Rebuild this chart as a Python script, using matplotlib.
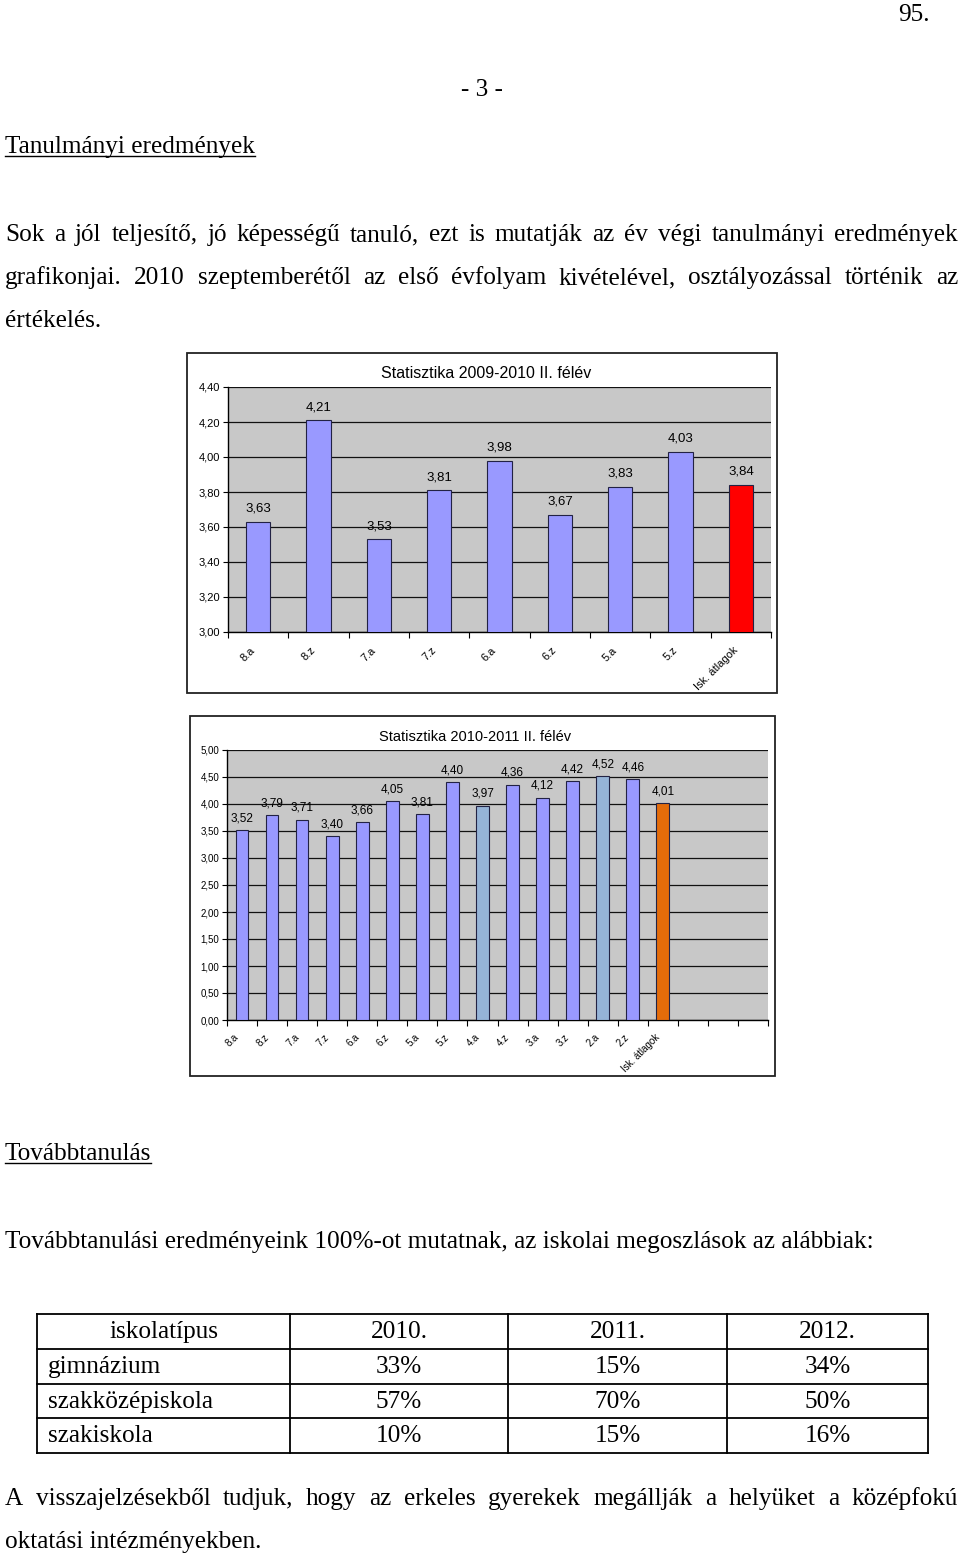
import numpy as np
import matplotlib
matplotlib.use("Agg")
import matplotlib.pyplot as plt
from matplotlib.patches import Rectangle
from matplotlib.ticker import FuncFormatter, FixedLocator

# chart 1 data
classes_1 = ["8.a", "8.z", "7.a", "7.z", "6.a", "6.z", "5.a", "5.z", "Isk. átlagok"]
avg_1 = [3.63, 4.21, 3.53, 3.81, 3.98, 3.67, 3.83, 4.03, 3.84]
colors_1 = ["#9999ff"] * 8 + ["#ff0000"]

# chart 2 data
classes_2 = ["8.a", "8.z", "7.a", "7.z", "6.a", "6.z", "5.a", "5.z",
             "4.a", "4.z", "3.a", "3.z", "2.a", "2.z", "Isk. átlagok"]
avg_2 = [3.52, 3.79, 3.71, 3.40, 3.66, 4.05, 3.81, 4.40,
         3.97, 4.36, 4.12, 4.42, 4.52, 4.46, 4.01]
colors_2 = ["#9999ff"] * 8 + ["#95b3d7", "#9999ff", "#9999ff", "#9999ff",
                              "#95b3d7", "#9999ff", "#e46c0a"]

# table data
table_head = ["iskolatípus", "2010.", "2011.", "2012."]
school_types = ["gimnázium", "szakközépiskola", "szakiskola"]
pct_2010 = [33, 57, 10]
pct_2011 = [15, 70, 15]
pct_2012 = [34, 50, 16]

W, H = 960, 1559
SERIF = "Liberation Serif"
SANS = "Liberation Sans"
BODY = 18.2

fig = plt.figure(figsize=(W / 100, H / 100), dpi=100)
page = fig.add_axes([0, 0, 1, 1])
page.set_xlim(0, W)
page.set_ylim(H, 0)
page.axis("off")
renderer = fig.canvas.get_renderer()


def comma(v, pos=None):
    return f"{v:.2f}".replace(".", ",")


def text_line(s, x, y, ha="left", size=BODY):
    return page.text(x, y, s, ha=ha, va="baseline", family=SERIF, fontsize=size)


def justified(s, x0, x1, y, size=BODY):
    words = s.split()
    texts = [text_line(w, 0, y, size=size) for w in words]
    widths = [t.get_window_extent(renderer).width for t in texts]
    gap = (x1 - x0 - sum(widths)) / (len(words) - 1)
    x = x0
    for t, w in zip(texts, widths):
        t.set_x(x)
        x += w + gap


def underlined(s, x, y):
    t = text_line(s, x, y)
    w = t.get_window_extent(renderer).width
    page.plot([x, x + w], [y + 3, y + 3], color="black", lw=1)


# page text
text_line("95.", 930, 21, ha="right")
text_line("- 3 -", 482, 96, ha="center")
underlined("Tanulmányi eredmények", 5, 153)
justified("Sok a jól teljesítő, jó képességű tanuló, ezt is mutatják az év végi tanulmányi eredmények",
          5, 958, 241)
justified("grafikonjai. 2010 szeptemberétől az első évfolyam kivételével, osztályozással történik az",
          5, 958, 284)
text_line("értékelés.", 5, 327)

underlined("Továbbtanulás", 5, 1160)
text_line("Továbbtanulási eredményeink 100%-ot mutatnak, az iskolai megoszlások az alábbiak:", 5, 1248)
justified("A visszajelzésekből tudjuk, hogy az erkeles gyerekek megállják a helyüket a középfokú",
          5, 958, 1505)
text_line("oktatási intézményekben.", 5, 1548)

# table
col_x = [37, 290, 508, 727, 928]
row_y = [1314, 1349, 1384, 1418, 1453]
for x in col_x:
    page.plot([x, x], [row_y[0], row_y[-1]], color="black", lw=1.3)
for y in row_y:
    page.plot([col_x[0], col_x[-1]], [y, y], color="black", lw=1.3)
centers = [(col_x[i] + col_x[i + 1]) / 2 for i in range(4)]
for i, h in enumerate(table_head):
    text_line(h, centers[i], row_y[0] + 24, ha="center")
for r, name in enumerate(school_types):
    y = row_y[r + 1] + 24
    text_line(name, 48, y)
    for c, col in enumerate([pct_2010, pct_2011, pct_2012]):
        text_line(f"{col[r]}%", centers[c + 1], y, ha="center")

# chart frames
page.add_patch(Rectangle((187, 353), 590, 340, facecolor="white", edgecolor="#222222", lw=1.3))
page.add_patch(Rectangle((190, 716), 585, 360, facecolor="white", edgecolor="#222222", lw=1.3))
page.text(486, 373, "Statisztika 2009-2010 II. félév", ha="center", va="center",
          family=SANS, fontsize=11.5)
page.text(475, 737, "Statisztika 2010-2011 II. félév", ha="center", va="center",
          family=SANS, fontsize=10.5)


def bar_chart(rect, labels, values, colors, nslots, width, ylim, step,
              ytick_size, xtick_size, label_size, lab_off, xoff):
    l, t, r, b = rect
    ax = fig.add_axes([l / W, 1 - b / H, (r - l) / W, (b - t) / H])
    ax.set_facecolor("#c8c8c8")
    x = np.arange(len(values))
    ax.bar(x, values, width=width, color=colors, edgecolor="#222244", lw=0.8, zorder=3)
    for xi, v in zip(x, values):
        ax.annotate(comma(v), (xi, v), xytext=(0, lab_off), textcoords="offset points",
                    ha="center", va="center", family=SANS, fontsize=label_size)
    # rotated category labels, anchored at their upper right corner
    for xi, lbl in zip(x, labels):
        ax.annotate(lbl, (xi, 0), xycoords=ax.get_xaxis_transform(), xytext=xoff,
                    textcoords="offset points", rotation=45, ha="right", va="top",
                    rotation_mode="anchor", family=SANS, fontsize=xtick_size,
                    annotation_clip=False)
    ax.set_xlim(-0.5, nslots - 0.5)
    ax.set_ylim(*ylim)
    ax.set_yticks(np.arange(ylim[0], ylim[1] + step / 2, step))
    ax.yaxis.set_major_formatter(FuncFormatter(comma))
    ax.yaxis.grid(True, color="#111111", lw=0.9)
    ax.set_axisbelow(True)
    ax.set_xticks([])
    ax.xaxis.set_minor_locator(FixedLocator(np.arange(-0.5, nslots, 1)))
    ax.tick_params(axis="x", which="minor", length=4, width=0.8, direction="out")
    ax.tick_params(axis="y", length=3.5, width=0.8, pad=2, labelsize=ytick_size)
    for lbl in ax.get_yticklabels():
        lbl.set_family(SANS)
    for s in ["top", "right"]:
        ax.spines[s].set_visible(False)
    for s in ["left", "bottom"]:
        ax.spines[s].set_color("black")
        ax.spines[s].set_linewidth(1)
    return ax


bar_chart((228, 387, 771, 632), classes_1, avg_1, colors_1, 9, 0.4, (3.0, 4.4), 0.2,
          8, 8, 9.5, 9.5, (-6, -9.5))
bar_chart((227, 750, 768, 1020), classes_2, avg_2, colors_2, 18, 0.42, (0.0, 5.0), 0.5,
          7, 7, 8.5, 8.5, (-6, -8.5))

fig.savefig("out.png", dpi=100)
